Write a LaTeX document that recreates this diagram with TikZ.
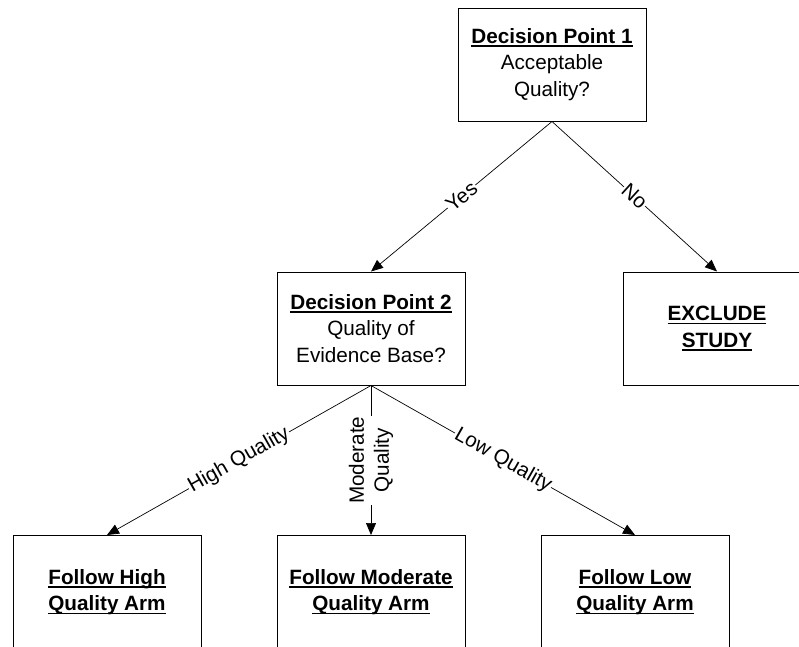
\documentclass[tikz,border=0pt]{standalone}
\usepackage{fontspec}
\setmainfont{Liberation Sans}
\usetikzlibrary{arrows.meta,trees}

% bold text with an underline just below the baseline
\newcommand\ulbf[1]{\setbox0\hbox{\textbf{#1}}\rlap{\vrule height -2pt depth 3.4pt width \wd0}\box0}

\tikzset{
  decision/.style={rectangle,draw,line width=1pt,minimum width=188pt,minimum height=113pt,align=center,inner sep=2pt},
  answer/.style={fill=white,inner sep=1pt,font=\fontsize{20.7}{25}\selectfont},
}

\begin{document}
\begin{tikzpicture}[x=1pt,y=-1pt,
		font=\fontsize{20.7}{26.5}\selectfont,
		level 1/.style={grow via three points={one child at (0,264) and two children at (-181,264) and (165,264)}},
		level 2/.style={grow via three points={one child at (0,263.5) and two children at (-132,263.5) and (132,263.5)}},
		parent anchor=south,child anchor=north,
		edge from parent/.style={draw,line width=0.7pt,-{Triangle[length=12pt,width=10pt]}}]
		\useasboundingbox (0,0) rectangle (799,646);
		\node[decision] (dp1) at (552,64.5) {\ulbf{Decision Point 1}\\Acceptable\\Quality?}
			child{
				node[decision] (dp2) {\ulbf{Decision Point 2}\\Quality of\\Evidence Base?}
					child{node[decision] (high) {\ulbf{Follow High}\\\ulbf{Quality Arm}}
						edge from parent node[answer,sloped] {High Quality}}
					child{node[decision] (moderate) {\ulbf{Follow Moderate}\\\ulbf{Quality Arm}}
						edge from parent node[answer,rotate=90,align=center] {Moderate\\Quality}}
					child{node[decision] (low) {\ulbf{Follow Low}\\\ulbf{Quality Arm}}
						edge from parent node[answer,sloped] {Low Quality}}
				edge from parent node[answer,sloped] {Yes}
				}
			child{
				node[decision] (exclude) {\ulbf{EXCLUDE}\\\ulbf{STUDY}}
				edge from parent node[answer,sloped] {No}
				}
		;
	\end{tikzpicture}
\end{document}
